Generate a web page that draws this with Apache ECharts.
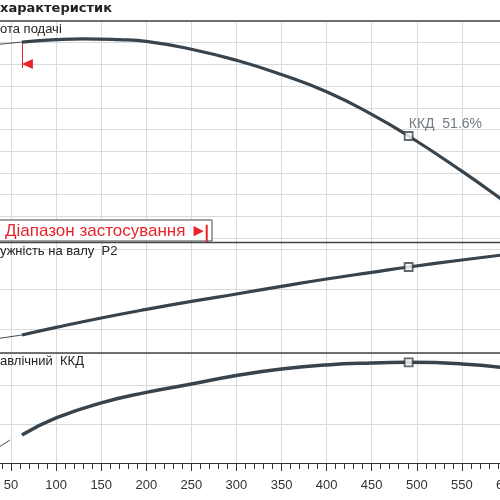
<!DOCTYPE html>
<html>
<head>
<meta charset="utf-8">
<script src="https://cdn.jsdelivr.net/npm/echarts@6/dist/echarts.min.js"></script>
<style>
  html, body { margin: 0; padding: 0; background: #fff; }
  #main { width: 500px; height: 500px; }
</style>
</head>
<body>
<div id="main"></div>
<script>
// подача, м3/год
const headThinQ = [35, 62];
const headThinH = [8.92, 9.03];
const headQ = [62, 100, 130, 170, 200, 250, 300, 350, 400, 450, 491, 550, 592, 620];
const headH = [9.03, 9.14, 9.18, 9.14, 9.06, 8.70, 8.19, 7.53, 6.74, 5.70, 4.70, 3.08, 1.84, 0.95];

const powerThinQ = [35, 62];
const powerThinP = [1.52, 1.70];
const powerQ = [62, 100, 150, 200, 250, 300, 350, 400, 450, 491, 550, 600];
const powerP = [1.70, 2.08, 2.55, 2.98, 3.38, 3.75, 4.13, 4.50, 4.83, 5.10, 5.45, 5.73];

const effThinQ = [35, 49];
const effThinE = [7.7, 11.8];
const effQ = [62, 100, 150, 200, 250, 300, 350, 400, 450, 491, 550, 600];
const effE = [14.4, 23.1, 30.8, 36.2, 40.5, 44.9, 48.2, 50.3, 51.3, 51.6, 50.8, 48.7];

// робоча точка
const bepQ = 491;
const bepH = 4.70;
const bepP = 5.10;
const bepE = 51.6;

// діапазон застосування
const rangeStart = 62;
const rangeEnd = 267;

const CURVE = "#37434d";
const GRID = "#dadada";
const DARK = "#444";
const RED = "#e8232a";

const zip = (a, b) => a.map((v, i) => [v, b[i]]);

const chart = echarts.init(document.getElementById("main"));

const gridLeft = -34;
const gridWidth = 586;
const qMin = 0, qMax = 650;

function mkGrid(top, height) {
  return {
    left: gridLeft, width: gridWidth, top: top, height: height,
    containLabel: false, outerBoundsMode: "none"
  };
}

function hiddenX(gridIndex) {
  return {
    type: "value", gridIndex: gridIndex, min: qMin, max: qMax,
    show: false, splitLine: { show: false }
  };
}

function lineSeries(idx, data, width) {
  return {
    type: "line", xAxisIndex: idx, yAxisIndex: idx, data: data,
    showSymbol: false, smooth: true, clip: false, silent: true,
    lineStyle: { color: CURVE, width: width }, z: 5
  };
}

function bepSeries(idx, val, label) {
  return {
    type: "scatter", xAxisIndex: idx, yAxisIndex: idx, data: [[bepQ, val]],
    symbol: "rect", symbolSize: 8, clip: false, silent: true, z: 6,
    itemStyle: { color: "#fff", borderColor: CURVE, borderWidth: 1.8 },
    label: label || { show: false }
  };
}

const option = {
  backgroundColor: "#fff",
  animation: false,
  grid: [mkGrid(21, 442), mkGrid(21, 217), mkGrid(249, 80), mkGrid(353, 110)],
  xAxis: [
    {
      type: "value", gridIndex: 0, min: qMin, max: qMax, interval: 50,
      axisLine: { show: true, lineStyle: { color: "#333", width: 1 } },
      axisTick: { show: true, length: 8, lineStyle: { color: "#333" } },
      minorTick: { show: true, splitNumber: 5, length: 6, lineStyle: { color: "#333" } },
      axisLabel: { color: "#333", fontSize: 13, margin: 16, fontFamily: "Liberation Sans" },
      splitLine: { show: true, lineStyle: { color: GRID, width: 1 } }
    },
    hiddenX(1), hiddenX(2), hiddenX(3)
  ],
  yAxis: [
    { type: "value", gridIndex: 0, min: 0, max: 1, show: false, splitLine: { show: false } },
    {
      type: "value", gridIndex: 1, min: 0, max: 10, interval: 1,
      axisLine: { show: false }, axisTick: { show: false }, axisLabel: { show: false },
      splitLine: { show: true, lineStyle: { color: GRID } }
    },
    {
      type: "value", gridIndex: 2, min: 2, max: 6, interval: 2,
      axisLine: { show: false }, axisTick: { show: false }, axisLabel: { show: false },
      splitLine: { show: true, lineStyle: { color: GRID } }
    },
    {
      type: "value", gridIndex: 3, min: 0, max: 56.4, interval: 20,
      axisLine: { show: false }, axisTick: { show: false }, axisLabel: { show: false },
      splitLine: { show: true, lineStyle: { color: GRID } }
    }
  ],
  series: [
    // кінець діапазону застосування (позначка біля підпису)
    {
      type: "line", xAxisIndex: 0, yAxisIndex: 0, silent: true, showSymbol: false, z: 6,
      data: [[rangeEnd, 0.539], [rangeEnd, 0.5]],
      lineStyle: { color: RED, width: 2 }
    },
    lineSeries(1, zip(headThinQ, headThinH), 1),
    Object.assign(lineSeries(1, zip(headQ, headH), 3.2), {
      markLine: {
        silent: true, symbol: "none", animation: false,
        label: { show: false },
        lineStyle: { color: RED, width: 1, type: "solid" },
        data: [
          [{ coord: [rangeStart, 9.03] }, { coord: [rangeStart, 7.83] }]
        ]
      },
      markPoint: {
        silent: true, animation: false,
        symbol: "path://M0,5 L10,0 L10,10 Z",
        symbolSize: [11, 10], symbolOffset: [5.5, 0],
        itemStyle: { color: RED },
        label: { show: false },
        data: [{ coord: [rangeStart, 8.02] }]
      }
    }),
    bepSeries(1, bepH, {
      show: true, position: [5, -14], align: "left", verticalAlign: "top",
      color: "#4f5b66", fontSize: 14, fontFamily: "Liberation Sans",
      formatter: () => "ККД  " + bepE + "%"
    }),
    lineSeries(2, zip(powerThinQ, powerThinP), 1),
    lineSeries(2, zip(powerQ, powerP), 3.2),
    bepSeries(2, bepP),
    lineSeries(3, zip(effThinQ, effThinE), 1),
    lineSeries(3, zip(effQ, effE), 3.5),
    bepSeries(3, bepE)
  ],
  graphic: [
    { type: "line", shape: { x1: 0, y1: 21, x2: 500, y2: 21 }, style: { stroke: DARK, lineWidth: 1.5 }, z: 10 },
    { type: "line", shape: { x1: 0, y1: 242.5, x2: 500, y2: 242.5 }, style: { stroke: DARK, lineWidth: 1.5 }, z: 10 },
    { type: "line", shape: { x1: 0, y1: 353, x2: 500, y2: 353 }, style: { stroke: DARK, lineWidth: 1.5 }, z: 10 },
    {
      type: "text", left: 0, top: 2, z: 10,
      style: { text: "характеристик", font: "bold 13px 'DejaVu Sans'", fill: "#222" }
    },
    {
      type: "text", left: 0, top: 23, z: 10,
      style: { text: "ота подачі", font: "13px 'Liberation Sans'", fill: "#222" }
    },
    {
      type: "text", left: 0, top: 245, z: 10,
      style: { text: "ужність на валу  P2", font: "13px 'Liberation Sans'", fill: "#222" }
    },
    {
      type: "text", left: 0, top: 355, z: 10,
      style: { text: "авлічний  ККД", font: "13px 'Liberation Sans'", fill: "#222" }
    },
    {
      type: "rect", shape: { x: -1, y: 220, width: 213, height: 21 }, z: 3,
      style: { fill: "#fff", stroke: DARK, lineWidth: 1 }
    },
    {
      type: "text", x: 5, y: 231, z: 4,
      style: { text: "Діапазон застосування ►", font: "17px 'Liberation Sans'", fill: RED, verticalAlign: "middle" }
    }
  ]
};

chart.setOption(option);
</script>
</body>
</html>
